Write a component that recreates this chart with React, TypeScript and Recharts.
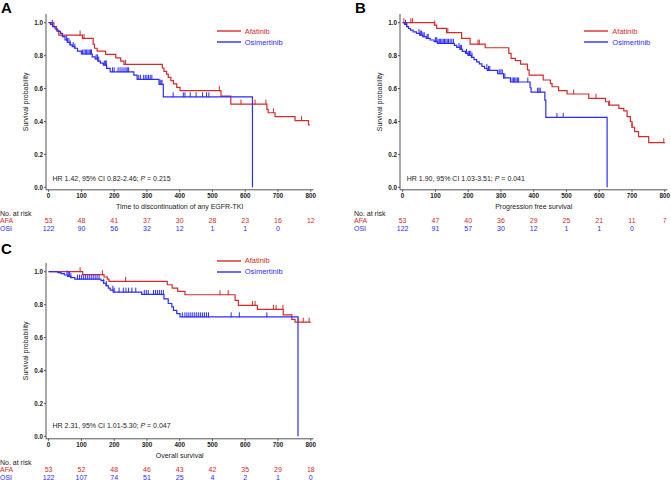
import React from 'react';
import { ComposedChart, Line, Scatter, XAxis, YAxis, Legend } from 'recharts';

const RED = '#d42a2a';
const BLUE = '#2b2bff';
const FONT = '"Liberation Sans", Arial, Helvetica, sans-serif';

const DAY_TICKS = [0, 100, 200, 300, 400, 500, 600, 700, 800];
const PROB_TICKS = [0, 0.2, 0.4, 0.6, 0.8, 1.0];

// A: time to discontinuation of any EGFR-TKI
const afaTtdT = [0, 16, 24, 31, 103, 136, 140, 148, 174, 205, 220, 230, 347, 352, 360, 365, 373, 381, 391, 401, 526, 556, 666, 670, 691, 752, 793, 797];
const afaTtdS = [1.0, 0.976, 0.95, 0.925, 0.905, 0.869, 0.845, 0.828, 0.808, 0.787, 0.767, 0.747, 0.725, 0.705, 0.688, 0.668, 0.648, 0.628, 0.607, 0.587, 0.554, 0.506, 0.474, 0.453, 0.429, 0.405, 0.379, 0.379];
const afaTtdCens = [96, 108, 235, 521, 587, 630, 663, 686, 772];
const osiTtdT = [0, 6, 12, 20, 28, 36, 42, 50, 57, 65, 72, 80, 88, 100, 133, 142, 150, 158, 167, 177, 188, 260, 270, 337, 350, 622];
const osiTtdS = [1.0, 0.99, 0.976, 0.962, 0.948, 0.935, 0.915, 0.895, 0.88, 0.865, 0.855, 0.845, 0.828, 0.81, 0.793, 0.78, 0.767, 0.755, 0.743, 0.723, 0.702, 0.682, 0.656, 0.626, 0.55, 0];
const osiTtdCens = [11, 55, 58, 62, 66, 75, 80, 103, 108, 112, 116, 120, 124, 128, 131, 145, 149, 153, 170, 174, 176, 195, 200, 212, 218, 224, 230, 236, 240, 244, 275, 280, 290, 295, 300, 305, 310, 315, 340, 343, 346, 380, 411, 416, 432, 450, 470, 482, 489];
const afaTtdRisk = [53, 48, 41, 37, 30, 28, 23, 16, 12];
const osiTtdRisk = [122, 90, 56, 32, 12, 1, 1, 0];

// B: progression free survival
const afaPfsT = [0, 97, 104, 134, 180, 206, 252, 324, 331, 344, 360, 381, 386, 429, 451, 456, 476, 502, 568, 619, 629, 660, 675, 685, 695, 700, 708, 720, 751, 800];
const afaPfsS = [1.0, 0.986, 0.966, 0.94, 0.905, 0.87, 0.848, 0.814, 0.784, 0.77, 0.749, 0.713, 0.682, 0.652, 0.63, 0.611, 0.587, 0.567, 0.541, 0.52, 0.5, 0.48, 0.465, 0.43, 0.4, 0.365, 0.338, 0.308, 0.271, 0.271];
const afaPfsCens = [4, 25, 30, 98, 138, 230, 234, 522, 590, 631, 700, 797];
const osiPfsT = [0, 6, 12, 18, 24, 32, 42, 52, 62, 72, 84, 96, 106, 158, 165, 175, 182, 192, 200, 210, 218, 226, 234, 242, 250, 258, 290, 308, 329, 389, 392, 434, 437, 624];
const osiPfsS = [1.0, 0.99, 0.976, 0.965, 0.955, 0.945, 0.935, 0.925, 0.915, 0.905, 0.895, 0.885, 0.875, 0.862, 0.85, 0.838, 0.826, 0.814, 0.802, 0.79, 0.776, 0.762, 0.75, 0.735, 0.722, 0.71, 0.69, 0.665, 0.64, 0.605, 0.578, 0.53, 0.425, 0];
const osiPfsCens = [9, 13, 50, 54, 58, 62, 66, 75, 78, 100, 104, 108, 112, 116, 120, 124, 128, 132, 136, 140, 145, 150, 155, 172, 176, 180, 195, 200, 204, 208, 212, 257, 262, 266, 295, 300, 304, 308, 312, 334, 338, 342, 346, 350, 354, 382, 412, 416, 420, 471, 490];
const afaPfsRisk = [53, 47, 40, 36, 29, 25, 21, 11, 7];
const osiPfsRisk = [122, 91, 57, 30, 12, 1, 1, 0];

// C: overall survival
const afaOsT = [0, 104, 169, 179, 184, 362, 377, 394, 416, 569, 579, 637, 716, 742, 752, 800];
const afaOsS = [1.0, 0.982, 0.968, 0.955, 0.941, 0.921, 0.9, 0.881, 0.86, 0.826, 0.795, 0.771, 0.738, 0.71, 0.694, 0.694];
const afaOsCens = [96, 164, 235, 523, 548, 622, 630, 686, 694, 715, 762, 777, 795];
const osiOsT = [0, 28, 38, 48, 58, 68, 80, 160, 168, 175, 182, 188, 197, 284, 352, 365, 376, 381, 391, 401, 761];
const osiOsS = [1.0, 0.994, 0.988, 0.98, 0.972, 0.964, 0.955, 0.946, 0.93, 0.915, 0.9, 0.888, 0.876, 0.862, 0.835, 0.807, 0.787, 0.765, 0.746, 0.726, 0];
const osiOsCens = [56, 60, 64, 68, 88, 94, 100, 106, 112, 118, 124, 130, 136, 142, 148, 154, 168, 176, 196, 200, 215, 228, 236, 244, 254, 266, 292, 298, 304, 320, 326, 332, 338, 344, 350, 408, 416, 422, 428, 434, 440, 446, 452, 458, 464, 470, 476, 482, 488, 557, 582, 666];
const afaOsRisk = [53, 52, 48, 46, 43, 42, 35, 29, 18];
const osiOsRisk = [122, 107, 74, 51, 25, 4, 2, 1, 0];

type Pt = { t: number; s: number };

const toCurve = (t: number[], s: number[]): Pt[] => t.map((v, i) => ({ t: v, s: s[i] }));

// censor marks sit on the curve at their time
const levelAt = (curve: Pt[], t: number) => {
  let s = curve[0].s;
  curve.forEach((p) => {
    if (p.t <= t) s = p.s;
  });
  return s;
};
const toCensors = (curve: Pt[], times: number[]): Pt[] => times.map((t) => ({ t, s: levelAt(curve, t) }));

// chart geometry
const W = 320;
const H = 240;
const TOP = 14;
const Y_AXIS_W = 46;
const X_AXIS_H = 50.2;
const RIGHT = 6.6;
const PLOT_CX = (Y_AXIS_W + (W - RIGHT)) / 2;
const PLOT_CY = TOP + (H - TOP - X_AXIS_H) / 2;

const censorShape = (color: string) => (props: any) => (
  <line x1={props.cx} x2={props.cx} y1={props.cy - 4.5} y2={props.cy + 0.5} stroke={color} strokeWidth={1} />
);

const makeTick = (afa: number[], osi: number[]) => (props: any) => {
  const { x, payload } = props;
  const i = DAY_TICKS.indexOf(payload.value);
  return (
    <g fontFamily={FONT}>
      <text x={x} y={198} textAnchor="middle" fontSize={6.3} fontWeight="bold" fill="#222">
        {payload.value}
      </text>
      {i === 0 && (
        <>
          <text x={0} y={215.8} fontSize={7} fill="#222">No. at risk</text>
          <text x={0} y={223.3} fontSize={7} fill={RED}>AFA</text>
          <text x={0} y={230.5} fontSize={7} fill={BLUE}>OSI</text>
        </>
      )}
      {afa[i] !== undefined && (
        <text x={x} y={223.3} textAnchor="middle" fontSize={7} fill={RED}>{afa[i]}</text>
      )}
      {osi[i] !== undefined && (
        <text x={x} y={230.5} textAnchor="middle" fontSize={7} fill={BLUE}>{osi[i]}</text>
      )}
    </g>
  );
};

interface PanelProps {
  left: number;
  top: number;
  afa: Pt[];
  osi: Pt[];
  afaCens: number[];
  osiCens: number[];
  afaRisk: number[];
  osiRisk: number[];
  xLabel: string;
  hr: string;
  p: string;
  hrTop: number;
  legendLeft: number;
  legendTop: number;
}

function KMPanel(props: PanelProps) {
  const { left, top, afa, osi, afaCens, osiCens, afaRisk, osiRisk, xLabel, hr, p, hrTop, legendLeft, legendTop } = props;
  const legendItems = [
    { name: 'Afatinib', color: RED },
    { name: 'Osimertinib', color: BLUE },
  ];
  return (
    <div style={{ position: 'absolute', left, top, width: W, height: H }}>
      <ComposedChart width={W} height={H} margin={{ top: TOP, right: RIGHT, left: 0, bottom: 0 }}>
        <XAxis
          dataKey="t"
          type="number"
          domain={[-8, 808]}
          ticks={DAY_TICKS}
          interval={0}
          allowDataOverflow
          height={X_AXIS_H}
          stroke="#555"
          tickSize={2}
          tick={makeTick(afaRisk, osiRisk)}
          label={{
            content: () => (
              <text x={PLOT_CX} y={209} textAnchor="middle" fontSize={7} fontFamily={FONT} fill="#222">
                {xLabel}
              </text>
            ),
          }}
        />
        <YAxis
          dataKey="s"
          type="number"
          domain={[-0.015, 1.053]}
          ticks={PROB_TICKS}
          allowDataOverflow
          width={Y_AXIS_W}
          stroke="#555"
          tickSize={2}
          tickMargin={1}
          tickFormatter={(v: number) => v.toFixed(1)}
          tick={{ fontSize: 6.3, fontWeight: 'bold', fill: '#222', fontFamily: FONT }}
          label={{
            content: () => (
              <text
                x={28}
                y={PLOT_CY}
                textAnchor="middle"
                fontSize={7}
                fontFamily={FONT}
                fill="#222"
                transform={`rotate(-90, 28, ${PLOT_CY})`}
              >
                Survival probability
              </text>
            ),
          }}
        />
        <Legend
          layout="horizontal"
          verticalAlign="middle"
          align="center"
          wrapperStyle={{ left: legendLeft, top: legendTop, width: 'auto', height: 'auto' }}
          content={() => (
            <div style={{ fontFamily: FONT, fontSize: 7.5 }}>
              {legendItems.map((it) => (
                <div key={it.name} style={{ display: 'flex', alignItems: 'center', height: 11 }}>
                  <svg width={24} height={4} style={{ marginRight: 4, display: 'block' }}>
                    <line x1={0} x2={24} y1={2} y2={2} stroke={it.color} strokeWidth={1.4} />
                  </svg>
                  <span style={{ color: it.color }}>{it.name}</span>
                </div>
              ))}
            </div>
          )}
        />
        <Line data={afa} dataKey="s" type="stepAfter" stroke={RED} strokeWidth={1.2} dot={false} isAnimationActive={false} />
        <Line data={osi} dataKey="s" type="stepAfter" stroke={BLUE} strokeWidth={1.2} dot={false} isAnimationActive={false} />
        <Scatter data={toCensors(afa, afaCens)} dataKey="s" shape={censorShape(RED)} isAnimationActive={false} />
        <Scatter data={toCensors(osi, osiCens)} dataKey="s" shape={censorShape(BLUE)} isAnimationActive={false} />
      </ComposedChart>
      <div
        style={{
          position: 'absolute',
          left: 52.5,
          top: hrTop,
          fontFamily: FONT,
          fontSize: 7,
          lineHeight: 1,
          color: '#222',
          whiteSpace: 'nowrap',
        }}
      >
        {hr}
        <i>P</i>
        {p}
      </div>
    </div>
  );
}

const letterStyle = (left: number, top: number): React.CSSProperties => ({
  position: 'absolute',
  left,
  top,
  fontFamily: FONT,
  fontWeight: 'bold',
  fontSize: 15,
  lineHeight: 1,
  color: '#000',
});

export default function App() {
  return (
    <div style={{ position: 'absolute', left: 0, top: 0, width: 671, height: 480, overflow: 'hidden', background: '#fff' }}>
      <div style={letterStyle(1, 0)}>A</div>
      <div style={letterStyle(355, 0)}>B</div>
      <div style={letterStyle(1, 241)}>C</div>
      <KMPanel
        left={0}
        top={0}
        afa={toCurve(afaTtdT, afaTtdS)}
        osi={toCurve(osiTtdT, osiTtdS)}
        afaCens={afaTtdCens}
        osiCens={osiTtdCens}
        afaRisk={afaTtdRisk}
        osiRisk={osiTtdRisk}
        xLabel="Time to discontinuation of any EGFR-TKI"
        hr="HR 1.42, 95% CI 0.82-2.46; "
        p=" = 0.215"
        hrTop={174.8}
        legendLeft={216.7}
        legendTop={25.5}
      />
      <KMPanel
        left={354.3}
        top={0}
        afa={toCurve(afaPfsT, afaPfsS)}
        osi={toCurve(osiPfsT, osiPfsS)}
        afaCens={afaPfsCens}
        osiCens={osiPfsCens}
        afaRisk={afaPfsRisk}
        osiRisk={osiPfsRisk}
        xLabel="Progression free survival"
        hr="HR 1.90, 95% CI 1.03-3.51; "
        p=" = 0.041"
        hrTop={174.8}
        legendLeft={230}
        legendTop={25.5}
      />
      <KMPanel
        left={0}
        top={249}
        afa={toCurve(afaOsT, afaOsS)}
        osi={toCurve(osiOsT, osiOsS)}
        afaCens={afaOsCens}
        osiCens={osiOsCens}
        afaRisk={afaOsRisk}
        osiRisk={osiOsRisk}
        xLabel="Overall survival"
        hr="HR 2.31, 95% CI 1.01-5.30; "
        p=" = 0.047"
        hrTop={172.5}
        legendLeft={216.7}
        legendTop={6.2}
      />
    </div>
  );
}
